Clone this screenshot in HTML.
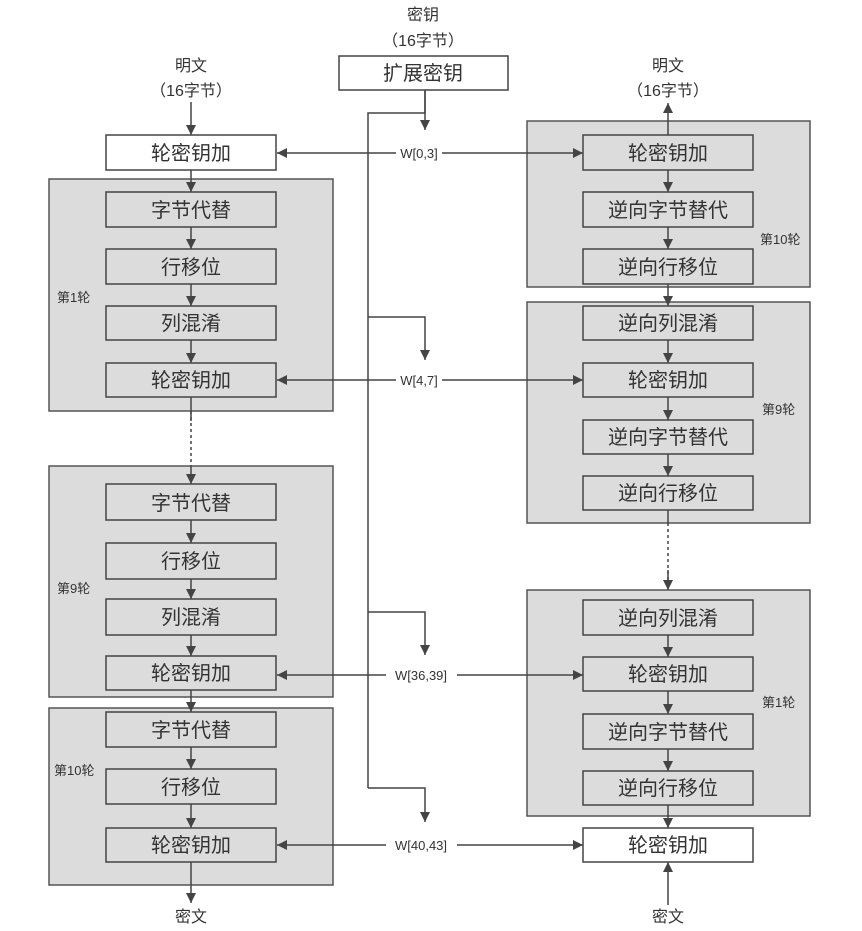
<!DOCTYPE html>
<html><head><meta charset="utf-8"><style>
html,body{margin:0;padding:0;background:#fff;}
svg{display:block;}
text{font-family:"Liberation Sans","Noto Sans CJK SC",sans-serif;fill:#333;}
.b{font-size:20px;text-anchor:middle;}
.s{font-size:13px;}
.w{font-size:13px;text-anchor:middle;}
</style></head><body>
<svg width="862" height="931" viewBox="0 0 862 931" xmlns="http://www.w3.org/2000/svg">
<defs>
<marker id="a" viewBox="0 0 10 10" refX="10" refY="5" markerWidth="10" markerHeight="10" markerUnits="userSpaceOnUse" orient="auto"><path d="M0,0 L10,5 L0,10 z" fill="#444"/></marker>
</defs>
<g stroke="#555" stroke-width="1.5" fill="#dcdcdc">
<!-- left groups -->
<rect x="49" y="179" width="284" height="232"/>
<rect x="49" y="466" width="284" height="231"/>
<rect x="49" y="708" width="284" height="177"/>
<!-- right groups -->
<rect x="527" y="121" width="283" height="166"/>
<rect x="527" y="302" width="283" height="221"/>
<rect x="527" y="590" width="283" height="226"/>
</g>
<g stroke="#444" stroke-width="1.5" fill="#dcdcdc">
<rect x="106" y="135" width="170" height="35" fill="#fff"/>
<rect x="106" y="192" width="170" height="35"/>
<rect x="106" y="249" width="170" height="35"/>
<rect x="106" y="306" width="170" height="34"/>
<rect x="106" y="363" width="170" height="34"/>
<rect x="106" y="484" width="170" height="36"/>
<rect x="106" y="543" width="170" height="36"/>
<rect x="106" y="599" width="170" height="36"/>
<rect x="106" y="656" width="170" height="34"/>
<rect x="106" y="712" width="170" height="35"/>
<rect x="106" y="769" width="170" height="35"/>
<rect x="106" y="828" width="170" height="34"/>
<rect x="339" y="56" width="169" height="34" fill="#fff"/>
<rect x="583" y="135" width="170" height="35"/>
<rect x="583" y="192" width="170" height="35"/>
<rect x="583" y="249" width="170" height="35"/>
<rect x="583" y="306" width="170" height="34"/>
<rect x="583" y="363" width="170" height="34"/>
<rect x="583" y="420" width="170" height="34"/>
<rect x="583" y="476" width="170" height="34"/>
<rect x="583" y="600" width="170" height="35"/>
<rect x="583" y="657" width="170" height="34"/>
<rect x="583" y="714" width="170" height="35"/>
<rect x="583" y="771" width="170" height="34"/>
<rect x="583" y="828" width="170" height="34" fill="#fff"/>
</g>
<g stroke="#444" stroke-width="1.5" fill="none" marker-end="url(#a)">
<!-- left column -->
<line x1="191" y1="102" x2="191" y2="135"/>
<line x1="191" y1="170" x2="191" y2="192"/>
<line x1="191" y1="227" x2="191" y2="249"/>
<line x1="191" y1="284" x2="191" y2="306"/>
<line x1="191" y1="340" x2="191" y2="363"/>
<line x1="191" y1="397" x2="191" y2="421" marker-end="none"/>
<line x1="191" y1="520" x2="191" y2="543"/>
<line x1="191" y1="579" x2="191" y2="599"/>
<line x1="191" y1="635" x2="191" y2="656"/>
<line x1="191" y1="690" x2="191" y2="712"/>
<line x1="191" y1="747" x2="191" y2="769"/>
<line x1="191" y1="804" x2="191" y2="828"/>
<line x1="191" y1="862" x2="191" y2="903"/>
<line x1="191" y1="466" x2="191" y2="484"/>
<!-- key -->
<polyline points="425,90 425,130"/>
<polyline points="368,317 425,317 425,360"/>
<polyline points="368,612 425,612 425,655"/>
<polyline points="368,788 425,788 425,822"/>
<line x1="396" y1="153" x2="277" y2="153"/>
<line x1="442" y1="153" x2="583" y2="153"/>
<line x1="396" y1="380" x2="277" y2="380"/>
<line x1="442" y1="380" x2="583" y2="380"/>
<line x1="386" y1="675" x2="277" y2="675"/>
<line x1="457" y1="675" x2="583" y2="675"/>
<line x1="386" y1="845" x2="277" y2="845"/>
<line x1="457" y1="845" x2="583" y2="845"/>
<!-- right column -->
<line x1="668" y1="135" x2="668" y2="103"/>
<line x1="668" y1="170" x2="668" y2="192"/>
<line x1="668" y1="227" x2="668" y2="249"/>
<line x1="668" y1="284" x2="668" y2="306"/>
<line x1="668" y1="340" x2="668" y2="363"/>
<line x1="668" y1="397" x2="668" y2="420"/>
<line x1="668" y1="454" x2="668" y2="476"/>
<line x1="668" y1="570" x2="668" y2="590"/>
<line x1="668" y1="635" x2="668" y2="657"/>
<line x1="668" y1="691" x2="668" y2="714"/>
<line x1="668" y1="749" x2="668" y2="771"/>
<line x1="668" y1="805" x2="668" y2="828"/>
<line x1="668" y1="905" x2="668" y2="862"/>
</g>
<g stroke="#444" stroke-width="1.5" fill="none">
<polyline points="425,90 425,113 368,113 368,788"/>
<line x1="191" y1="411" x2="191" y2="466" stroke-dasharray="3,3"/>
<line x1="668" y1="510" x2="668" y2="523"/>
<line x1="668" y1="523" x2="668" y2="582" stroke-dasharray="3,3"/>
</g>
<g class="b">
<text x="191" y="160">轮密钥加</text>
<text x="191" y="217">字节代替</text>
<text x="191" y="274">行移位</text>
<text x="191" y="330">列混淆</text>
<text x="191" y="387">轮密钥加</text>
<text x="191" y="510">字节代替</text>
<text x="191" y="568">行移位</text>
<text x="191" y="624">列混淆</text>
<text x="191" y="680">轮密钥加</text>
<text x="191" y="737">字节代替</text>
<text x="191" y="794">行移位</text>
<text x="191" y="852">轮密钥加</text>
<text x="423" y="80">扩展密钥</text>
<text x="668" y="160">轮密钥加</text>
<text x="668" y="217">逆向字节替代</text>
<text x="668" y="274">逆向行移位</text>
<text x="668" y="330">逆向列混淆</text>
<text x="668" y="387">轮密钥加</text>
<text x="668" y="444">逆向字节替代</text>
<text x="668" y="500">逆向行移位</text>
<text x="668" y="625">逆向列混淆</text>
<text x="668" y="681">轮密钥加</text>
<text x="668" y="739">逆向字节替代</text>
<text x="668" y="795">逆向行移位</text>
<text x="668" y="852">轮密钥加</text>
</g>
<g style="font-size:16px;text-anchor:middle">
<text x="191" y="71">明文</text>
<text x="191" y="96">（16字节）</text>
<text x="423" y="20">密钥</text>
<text x="423" y="46">（16字节）</text>
<text x="668" y="71">明文</text>
<text x="668" y="96">（16字节）</text>
<text x="191" y="922">密文</text>
<text x="668" y="922">密文</text>
</g>
<g class="w">
<text x="419" y="158">W[0,3]</text>
<text x="419" y="385">W[4,7]</text>
<text x="421" y="680">W[36,39]</text>
<text x="421" y="850">W[40,43]</text>
</g>
<g class="s">
<text x="57" y="302">第1轮</text>
<text x="57" y="593">第9轮</text>
<text x="54" y="775">第10轮</text>
<text x="760" y="244">第10轮</text>
<text x="762" y="414">第9轮</text>
<text x="762" y="707">第1轮</text>
</g>
</svg>
</body></html>
